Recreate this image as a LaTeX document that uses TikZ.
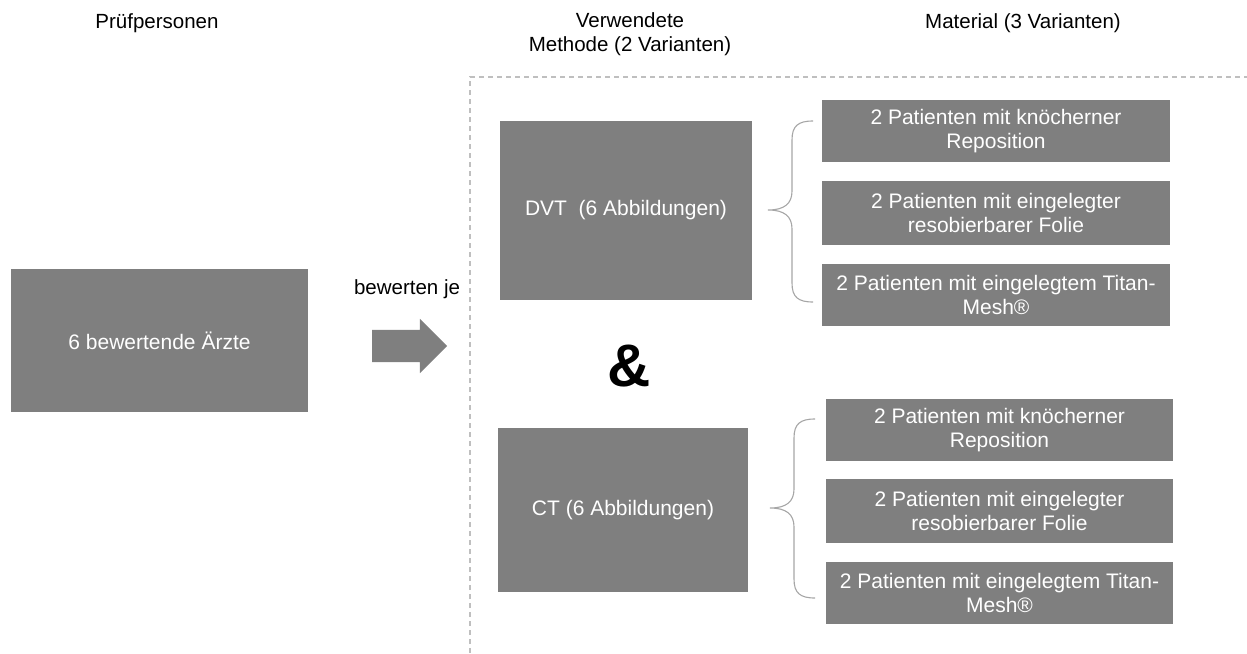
\documentclass[tikz,border=0pt]{standalone}
\usepackage{fontspec}
\setmainfont{Liberation Sans}
\usepackage{xcolor}
\usetikzlibrary{shapes.arrows}
\definecolor{kastengrau}{HTML}{7F7F7F}
\definecolor{linie}{HTML}{BFBFBF}
\definecolor{klammergrau}{HTML}{A6A6A6}

\begin{document}
\begin{tikzpicture}[x=1pt,y=-1pt,
  kasten/.style={fill=kastengrau,text=white,inner sep=0pt,align=center,
    font=\fontsize{21}{24.5}\selectfont},
  kopf/.style={inner sep=0pt,align=center,font=\fontsize{20.5}{23.5}\selectfont},
  klammer/.style={draw=klammergrau,line width=1.1pt},
  rahmen/.style={draw=linie,line width=1.1pt,dash pattern=on 5pt off 4pt}]
\useasboundingbox (0,0) rectangle (1247,653);
\node [kopf] (pruef) at (157,23) {Prüfpersonen};
\node [kopf] (methode) at (630,34) {Verwendete\\Methode (2 Varianten)};
\node [kopf] (material) at (1023,23) {Material (3 Varianten)};
\node [kasten,minimum width=297,minimum height=143] (aerzte) at (159.5,340.5) {6 bewertende Ärzte};
\node [kopf] (je) at (407,289) {bewerten je};
\node [single arrow,fill=kastengrau,inner xsep=0pt,inner ysep=16pt,
  minimum height=75,single arrow head extend=11pt,shape border rotate=0] (pfeil) at (401.5,346) {};
\draw [rahmen] (470,653) -- (470,77) -- (1247,77);
\node [kasten,minimum width=252,minimum height=179] (dvt) at (626,210.5) {DVT~ (6 Abbildungen)};
\node [kasten,minimum width=250,minimum height=164] (ct) at (623,510) {CT (6 Abbildungen)};
\node [font=\fontsize{60}{62}\selectfont\bfseries,inner sep=0pt] (und) at (629,366) {\&};
\node [kasten,minimum width=348,minimum height=62] (d1) at (996,131) {2 Patienten mit knöcherner\\Reposition};
\node [kasten,minimum width=348,minimum height=64] (d2) at (996,213) {2 Patienten mit eingelegter\\resobierbarer Folie};
\node [kasten,minimum width=348,minimum height=62] (d3) at (996,295) {2 Patienten mit eingelegtem Titan-\\Mesh®};
\node [kasten,minimum width=347,minimum height=62] (c1) at (999.5,430) {2 Patienten mit knöcherner\\Reposition};
\node [kasten,minimum width=347,minimum height=64] (c2) at (999.5,511) {2 Patienten mit eingelegter\\resobierbarer Folie};
\node [kasten,minimum width=347,minimum height=62] (c3) at (999.5,593) {2 Patienten mit eingelegtem Titan-\\Mesh®};
\draw [klammer] (813,121) .. controls (798,121) and (792,126) .. (792,140) -- (792,191)
  .. controls (792,204) and (784,210) .. (768,210) .. controls (784,210) and (792,216) .. (792,229)
  -- (792,283) .. controls (792,297) and (798,302) .. (813,302);
\draw [klammer] (815,419) .. controls (800,419) and (794,424) .. (794,438) -- (794,489)
  .. controls (794,502) and (786,508) .. (770,508) .. controls (786,508) and (794,514) .. (794,527)
  -- (794,579) .. controls (794,593) and (800,598) .. (815,598);
\end{tikzpicture}
\end{document}
